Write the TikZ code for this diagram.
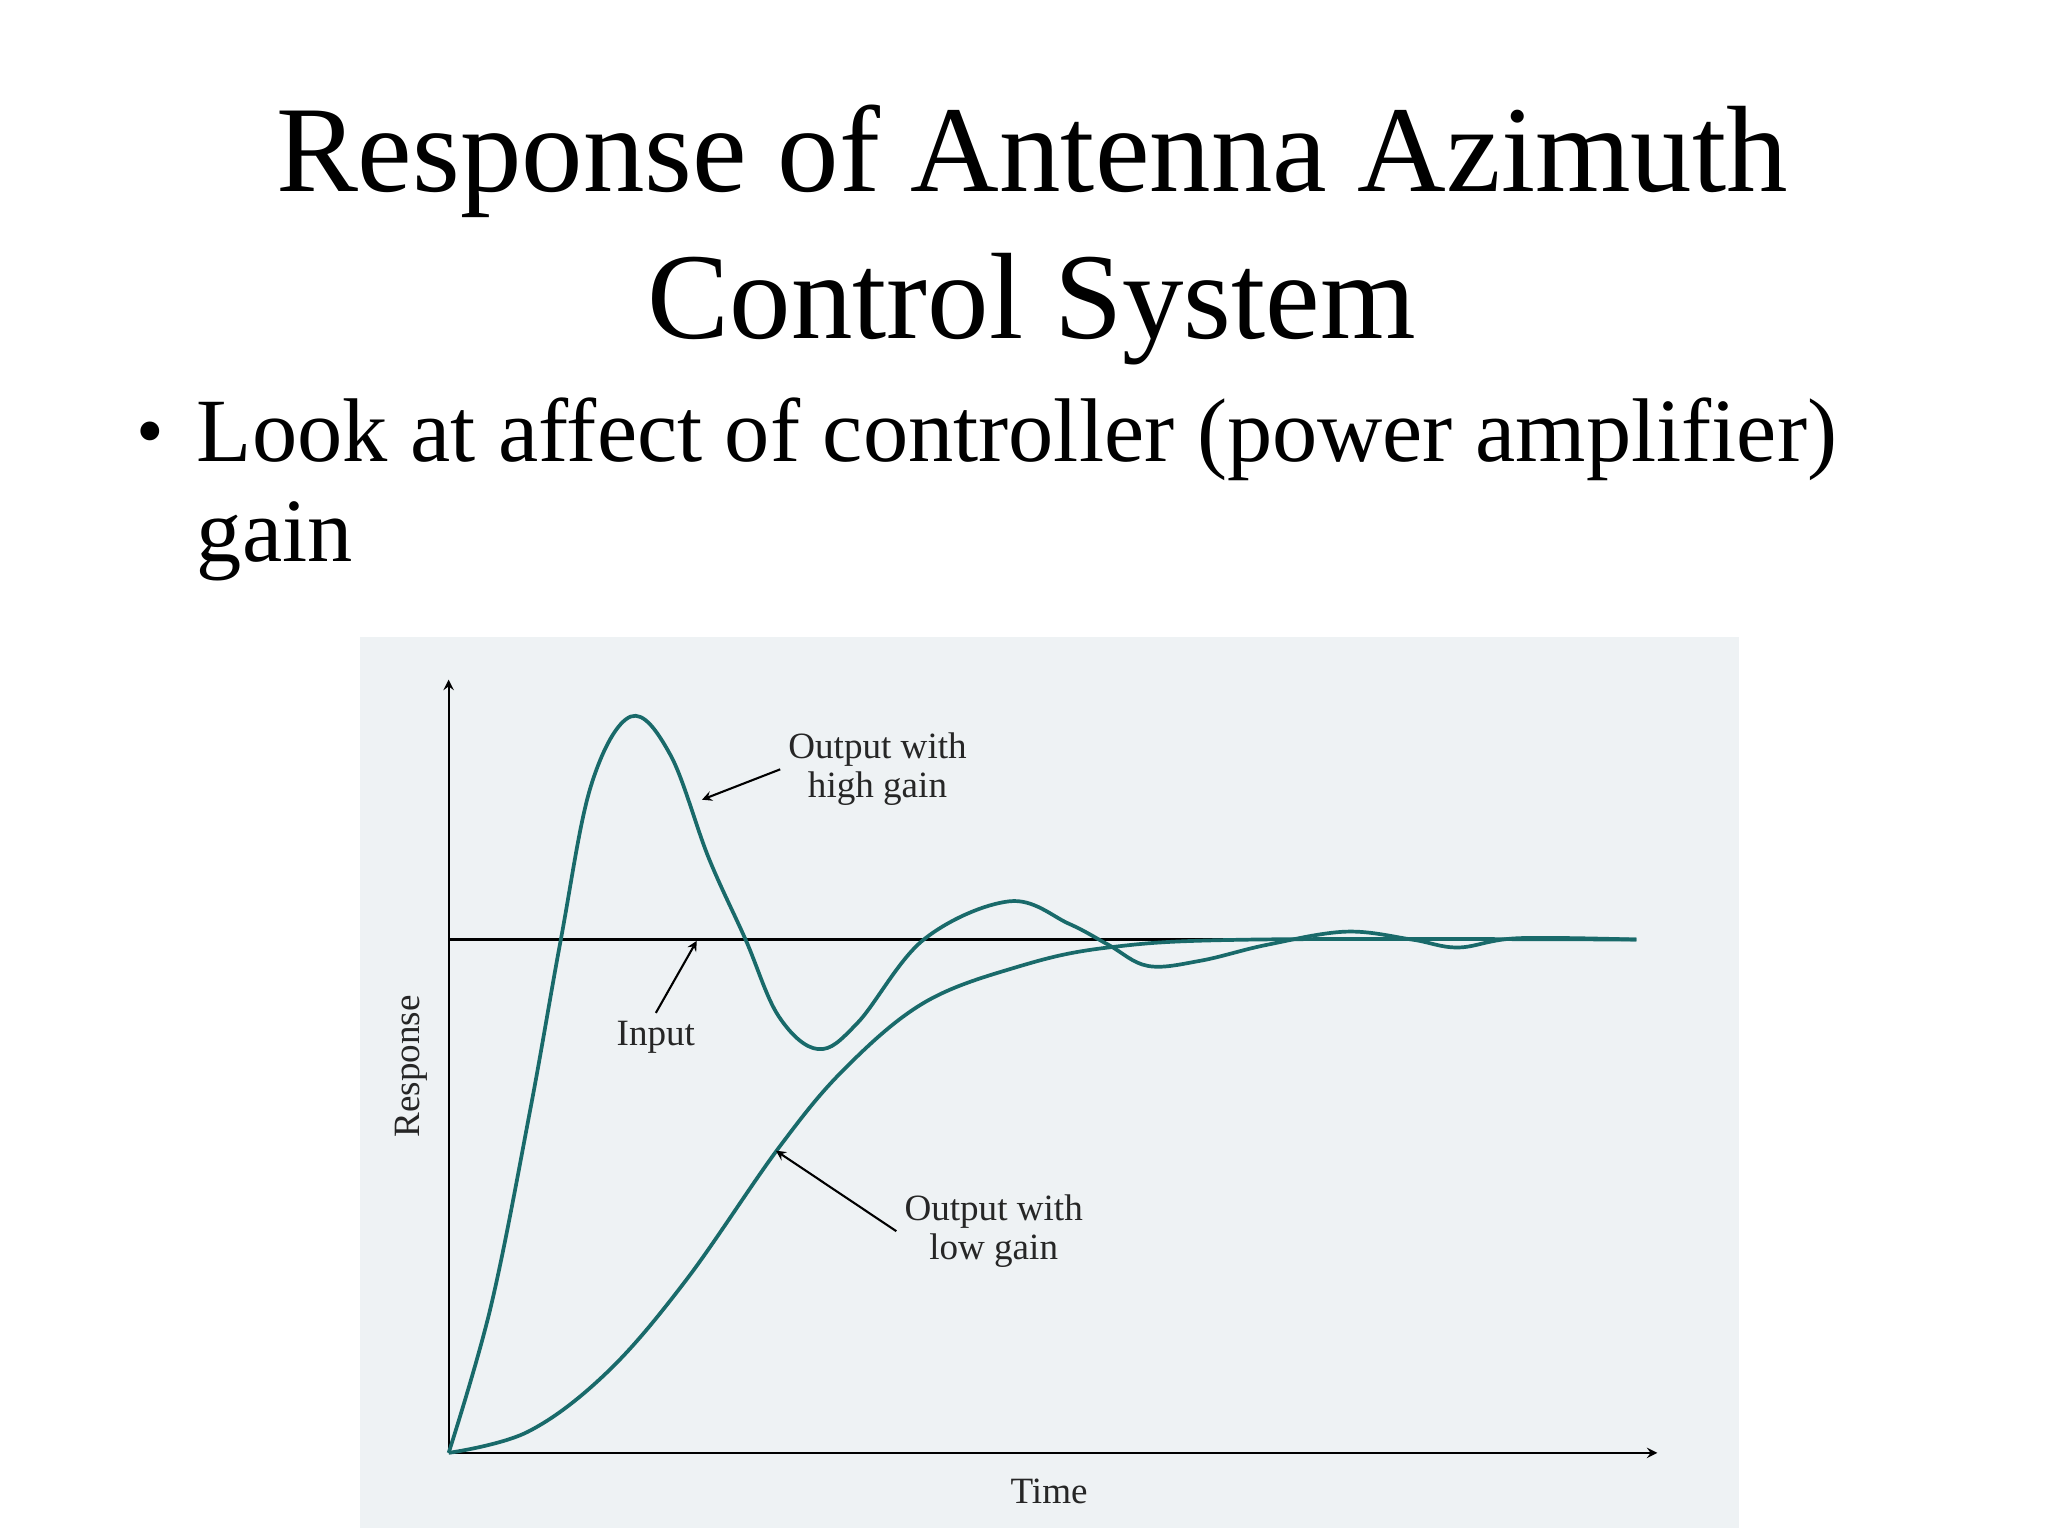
\documentclass[tikz,border=0pt]{standalone}
\usepackage{fontspec}
\setmainfont{Liberation Serif}
\begin{document}
\begin{tikzpicture}[x=0.02cm,y=-0.02cm,
  curve/.style={draw=teal!70!black!90, line width=1.6pt},
  lbl/.style={font=\fontsize{16}{17}\selectfont, align=center, text=black!85},
  ptr/.style={-stealth, line width=0.9pt}]
\useasboundingbox (0,0) rectangle (1552,1164);
\node (t1) at (782,122) {\fontsize{53}{58}\selectfont Response of Antenna Azimuth};
\node (t2) at (782,234) {\fontsize{53}{58}\selectfont Control System};
\node[anchor=west] (b1) at (97,333) {\fontsize{34}{40}\selectfont •};
\node[anchor=west] (l1) at (143,333) {\fontsize{39}{44}\selectfont Look at affect of controller (power amplifier)};
\node[anchor=west] (l2) at (143,410) {\fontsize{39}{44}\selectfont gain};
\fill[fill={rgb,255:red,238;green,242;blue,244}] (273,483) rectangle (1318,1158);
\coordinate (o) at (340,1101);
\coordinate (ytop) at (340,515);
\coordinate (xend) at (1256,1101);
\draw[-stealth, line width=1pt] (o) -- (ytop);
\draw[-stealth, line width=1pt] (o) -- (xend);
\coordinate (i0) at (340,712);
\coordinate (i1) at (1240,712);
\draw[line width=1pt] (i0) -- (i1);
\draw[curve] plot[smooth, tension=0.6] coordinates {(340,1101) (372,990) (402,840) (425,712) (448,595) (478,543) (508,572) (537,650) (565,712) (590,770) (620,795) (650,775) (700,712) (765,683) (810,700) (840,716) (870,732) (910,728) (960,716) (1020,706) (1070,712) (1105,718) (1150,711) (1240,712)};
\draw[curve] plot[smooth, tension=0.6] coordinates {(340,1101) (400,1085) (460,1040) (520,970) (590,870) (640,810) (700,760) (770,733) (840,718) (950,712) (1240,712)};
\node[lbl] (hg) at (665,583) {Output with\\high gain};
\coordinate (hga) at (532,606);
\draw[ptr] (hg.west) -- (hga);
\node[lbl] (in) at (497,786) {Input};
\coordinate (ina) at (528,713);
\draw[ptr] (in.north) -- (ina);
\node[lbl] (lg) at (753,933) {Output with\\low gain};
\coordinate (lga) at (588,872);
\draw[ptr] (lg.west) -- (lga);
\node[lbl] (time) at (795,1130) {Time};
\node[lbl, rotate=90] (resp) at (312,808) {Response};
\end{tikzpicture}
\end{document}
